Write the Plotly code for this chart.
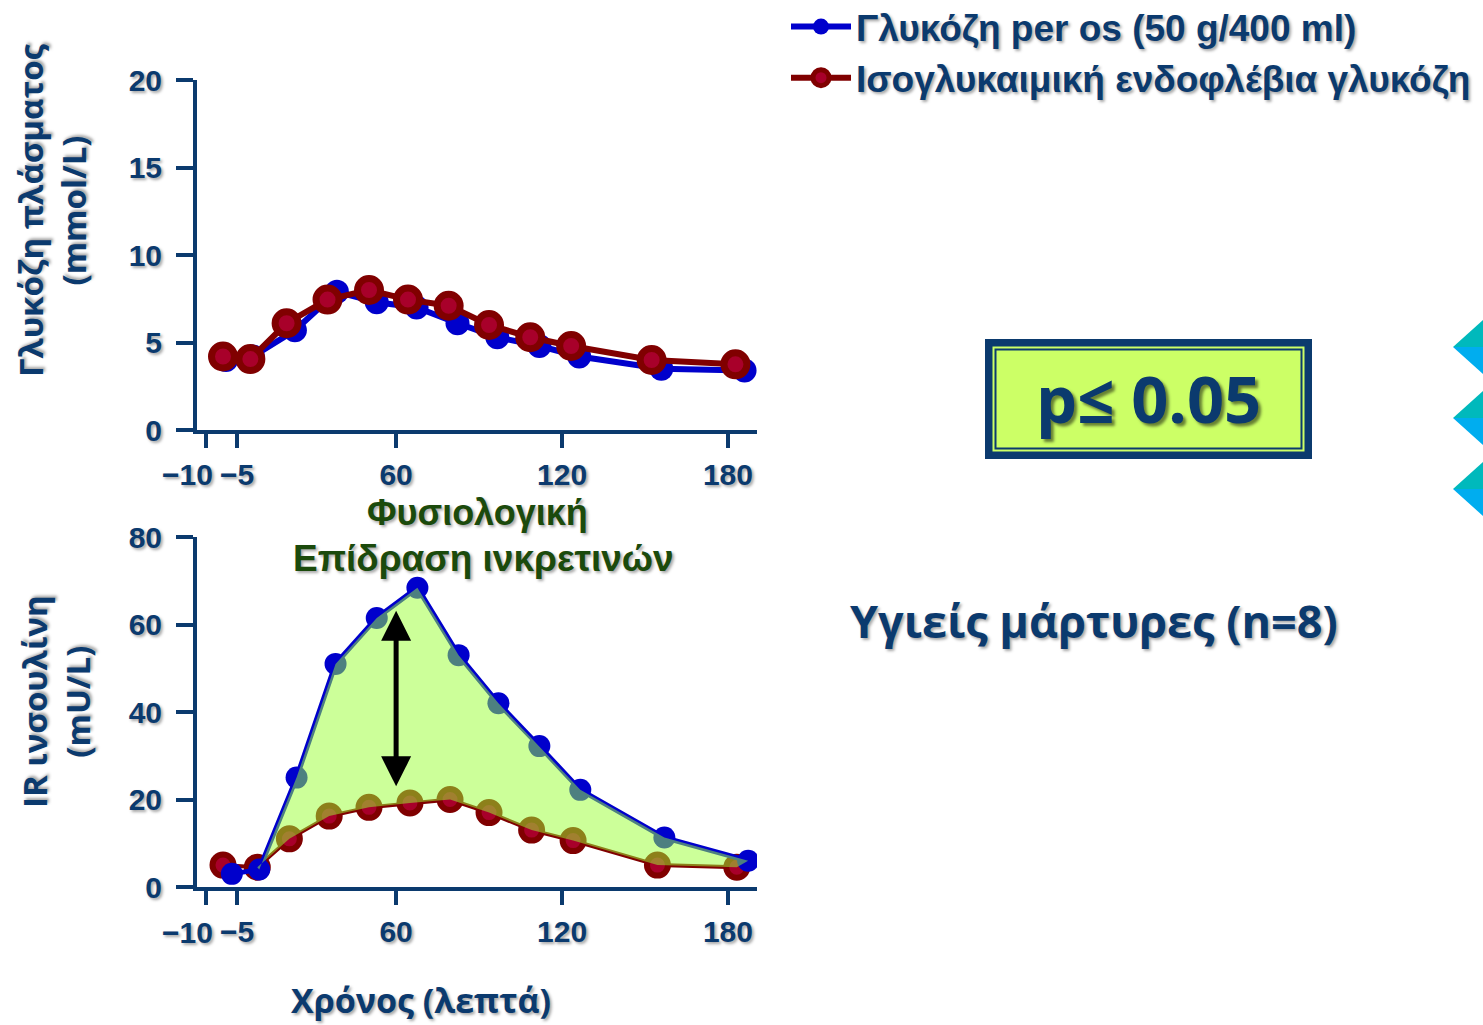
import plotly.graph_objects as go

# ---------------- data ----------------
# time (min), both panels
glu_oral_t = [-1.5, 8.2, 23.4, 38.6, 53, 67.4, 82.2, 96.6, 111.8, 126.2, 155.9, 186]
glu_oral = [4.0, 4.2, 5.7, 7.9, 7.3, 7.0, 6.1, 5.3, 4.8, 4.2, 3.5, 3.4]
glu_iv_t = [-2.6, 7.3, 20.4, 35.2, 50.2, 64.3, 79, 93.6, 108.5, 123.3, 152.4, 182.7]
glu_iv = [4.2, 4.05, 6.1, 7.45, 8.0, 7.45, 7.1, 6.0, 5.3, 4.8, 4.0, 3.75]

ins_oral_t = [0.6, 10.5, 24, 38.1, 53, 67.7, 82.6, 97, 111.8, 126.6, 157, 187.3]
ins_oral = [3, 4, 25, 51, 61.5, 68.4, 53, 42, 32.2, 22.2, 11.3, 6]
ins_iv_t = [-2.6, 9.8, 21.4, 35.8, 50.2, 65, 79.5, 93.6, 109, 124, 154.5, 183.2]
ins_iv = [5, 4.5, 11, 16.2, 18.2, 19.2, 20, 17, 13, 10.6, 5, 4.5]

x_tick_labels = ["\u221210", "\u22125", "60", "120", "180"]
x_tick_pos = [-8.7, 2.5, 60, 120, 180]
glu_ticks = [0, 5, 10, 15, 20]
ins_ticks = [0, 20, 40, 60, 80]

series_names = ["Γλυκόζη per os (50 g/400 ml)", "Ισογλυκαιμική ενδοφλέβια γλυκόζη"]

# ---------------- styling ----------------
W, H = 1483, 1025
NAVY = "#0B3A6E"
BLUE = "#0000CC"
RED_LINE = "#800000"
RED_FILL = "#A8002A"
GREEN_TXT = "#1B4A0C"
SHADOW = "2px 2px 3px rgba(0,0,0,0.35)"
ARIAL = "Liberation Sans, Arial, sans-serif"
CALIBRI = "Open Sans, Lato, sans-serif"


def px(x):
    return x / W


def py(y):
    return 1 - y / H


# the first label sits left of its tick in the reference: it is drawn as an annotation
x_tick_text = [""] + x_tick_labels[1:]

fig = go.Figure()

# top panel
fig.add_trace(go.Scatter(x=glu_oral_t, y=glu_oral, name=series_names[0], mode="lines+markers",
                         line=dict(color=BLUE, width=6),
                         marker=dict(color=BLUE, size=24, line=dict(width=0)),
                         xaxis="x", yaxis="y"))
fig.add_trace(go.Scatter(x=glu_iv_t, y=glu_iv, name=series_names[1], mode="lines+markers",
                         line=dict(color=RED_LINE, width=6),
                         marker=dict(color=RED_FILL, size=23, line=dict(width=7, color=RED_LINE)),
                         xaxis="x", yaxis="y"))

# bottom panel
fig.add_trace(go.Scatter(x=ins_iv_t, y=ins_iv, mode="lines+markers", showlegend=False,
                         line=dict(color=RED_LINE, width=4),
                         marker=dict(color=RED_FILL, size=21, line=dict(width=6, color=RED_LINE)),
                         xaxis="x2", yaxis="y2"))
fig.add_trace(go.Scatter(x=ins_oral_t, y=ins_oral, mode="lines+markers", showlegend=False,
                         line=dict(color=BLUE, width=5),
                         marker=dict(color=BLUE, size=22, line=dict(width=0)),
                         xaxis="x2", yaxis="y2"))
# incretin effect area (between the two insulin curves)
fig.add_trace(go.Scatter(x=ins_iv_t[1:], y=ins_iv[1:], mode="lines", showlegend=False,
                         line=dict(width=0, color="rgba(0,0,0,0)"), hoverinfo="skip",
                         xaxis="x2", yaxis="y2"))
fig.add_trace(go.Scatter(x=ins_oral_t[1:], y=ins_oral[1:], mode="lines", showlegend=False,
                         line=dict(width=0, color="rgba(0,0,0,0)"), fill="tonexty",
                         fillcolor="rgba(153,255,51,0.5)", hoverinfo="skip",
                         xaxis="x2", yaxis="y2"))

tickfont = dict(family=ARIAL, size=30, color=NAVY, weight="bold", shadow=SHADOW)
xcommon = dict(range=[-12, 190.5], tickvals=x_tick_pos, ticktext=x_tick_text, tickangle=0,
               showline=True, linecolor=NAVY, linewidth=4, ticks="outside", ticklen=14,
               tickwidth=4, tickcolor=NAVY, showgrid=False, zeroline=False, automargin=False,
               tickfont=tickfont, ticklabelstandoff=1)
ycommon = dict(showline=True, linecolor=NAVY, linewidth=4, ticks="outside", ticklen=17,
               tickwidth=4, tickcolor=NAVY, showgrid=False, zeroline=False, automargin=False,
               tickfont=tickfont, ticklabelstandoff=8)

xd = [px(197), px(757)]
fig.update_layout(
    width=W, height=H,
    margin=dict(l=0, r=0, t=0, b=0, autoexpand=False),
    paper_bgcolor="white", plot_bgcolor="white",
    xaxis=dict(domain=xd, anchor="y", **xcommon),
    yaxis=dict(domain=[py(430), py(80)], anchor="x", range=[0, 20], tickvals=glu_ticks, **ycommon),
    xaxis2=dict(domain=xd, anchor="y2", **xcommon),
    yaxis2=dict(domain=[py(887), py(537)], anchor="x2", range=[0, 80], tickvals=ins_ticks, **ycommon),
    legend=dict(x=px(786), y=py(-4), xanchor="left", yanchor="top", bgcolor="rgba(0,0,0,0)",
                font=dict(family=ARIAL, size=37, color=NAVY, weight="bold", shadow=SHADOW),
                traceorder="normal", tracegroupgap=0, itemwidth=60),
    showlegend=True,
)

annotations = [
    dict(text="Γλυκόζη πλάσματος<br>(mmol/L)", x=px(52), y=py(210), textangle=-90,
         font=dict(family=CALIBRI, size=33, color=NAVY, weight="bold", shadow=SHADOW)),
    dict(text="IR ινσουλίνη<br>(mU/L)", x=px(56), y=py(702), textangle=-90,
         font=dict(family=CALIBRI, size=33, color=NAVY, weight="bold", shadow=SHADOW)),
    dict(text="Χρόνος (λεπτά)", x=px(421), y=py(1000),
         font=dict(family=CALIBRI, size=34, color=NAVY, weight="bold", shadow=SHADOW)),
    dict(text="Φυσιολογική", x=px(478), y=py(512),
         font=dict(family=ARIAL, size=36, color=GREEN_TXT, weight="bold", shadow=SHADOW)),
    dict(text="Επίδραση ινκρετινών", x=px(483), y=py(558),
         font=dict(family=ARIAL, size=37, color=GREEN_TXT, weight="bold", shadow=SHADOW)),
    dict(text="p\u2264 0.05", x=px(1148), y=py(398),
         font=dict(family=CALIBRI, size=65, color=NAVY, weight="bold", shadow="3px 3px 3px rgba(0,0,0,0.5)")),
    dict(text="Υγιείς μάρτυρες (n=8)", x=px(1094), y=py(620),
         font=dict(family=CALIBRI, size=45, color=NAVY, weight="bold", shadow=SHADOW)),
]
for a in annotations:
    a.update(xref="paper", yref="paper", showarrow=False, xanchor="center", yanchor="middle")

# first x tick label of each panel, set left of its tick as in the reference
for xr, ylab in (("x", 475), ("x2", 932)):
    annotations.append(dict(text=x_tick_labels[0], x=x_tick_pos[0], xref=xr, xshift=-19,
                            y=py(ylab), yref="paper", showarrow=False, xanchor="center",
                            yanchor="middle", font=tickfont))

# double headed arrow (incretin effect)
annotations.append(dict(x=60, y=23, ax=60, ay=63.5, xref="x2", yref="y2", axref="x2", ayref="y2",
                        text="", showarrow=True, arrowhead=2, arrowside="end+start",
                        arrowsize=1.2, arrowwidth=5, arrowcolor="black"))
fig.update_layout(annotations=annotations)

shapes = []
# p-value box
shapes.append(dict(type="rect", xref="paper", yref="paper", x0=px(985), x1=px(1312), y0=py(459), y1=py(339),
                   fillcolor=NAVY, line=dict(width=0), layer="below"))
shapes.append(dict(type="rect", xref="paper", yref="paper", x0=px(992.5), x1=px(1304.5), y0=py(451.5), y1=py(346.5),
                   fillcolor="#CCFF66", line=dict(width=0), layer="below"))
shapes.append(dict(type="rect", xref="paper", yref="paper", x0=px(995.5), x1=px(1301.5), y0=py(448.5), y1=py(349.5),
                   fillcolor="rgba(0,0,0,0)", line=dict(width=2, color=NAVY), layer="below"))
# decorative half-diamonds at right edge
for cy in [347, 418, 489]:
    shapes.append(dict(type="path", xref="paper", yref="paper",
                       path=f"M {px(1483)},{py(cy-27)} L {px(1453)},{py(cy)} L {px(1483)},{py(cy)} Z",
                       fillcolor="#00B9BC", line=dict(width=0)))
    shapes.append(dict(type="path", xref="paper", yref="paper",
                       path=f"M {px(1453)},{py(cy)} L {px(1483)},{py(cy)} L {px(1483)},{py(cy+27)} Z",
                       fillcolor="#00ADEF", line=dict(width=0)))
fig.update_layout(shapes=shapes)

fig.write_html("out.html")
